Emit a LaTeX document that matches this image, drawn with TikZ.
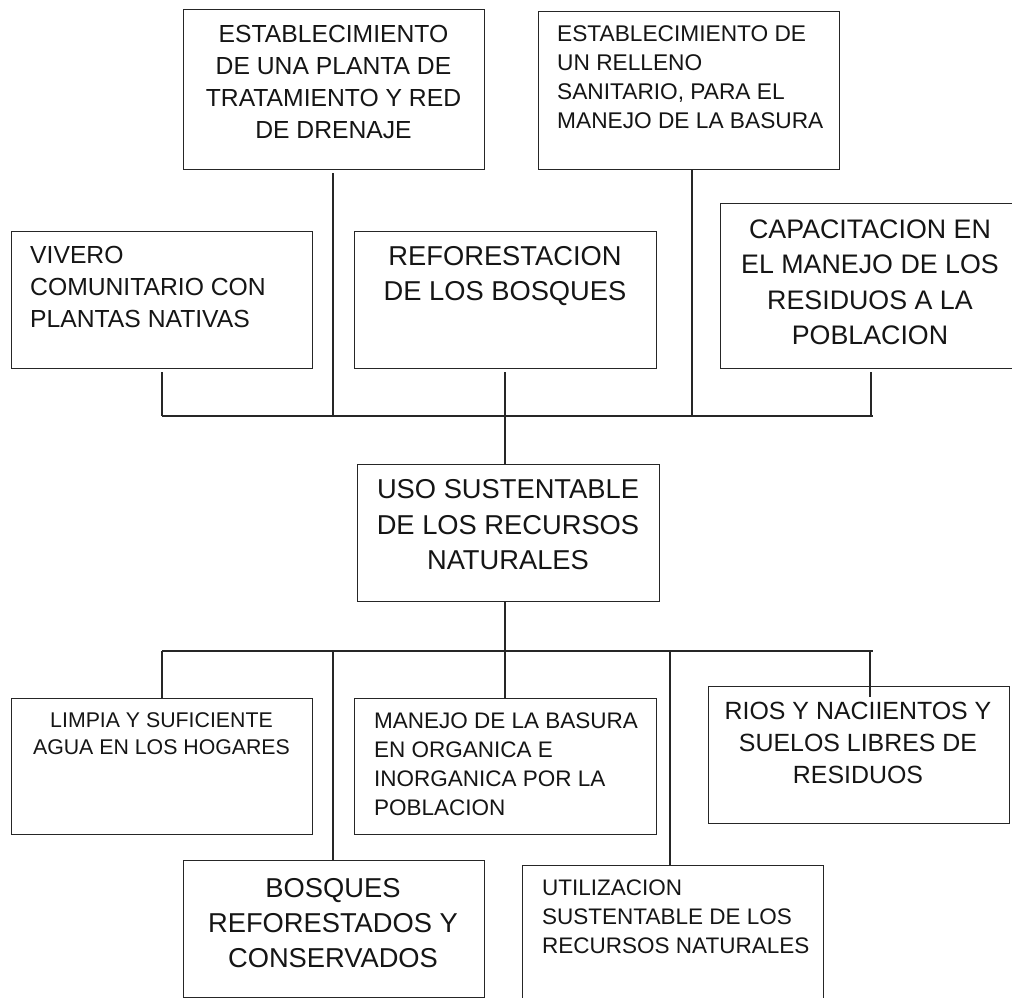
\documentclass[tikz,border=0pt]{standalone}
\usepackage{fontspec}
\setmainfont{Liberation Sans}
\definecolor{linec}{HTML}{262626}
\definecolor{textc}{HTML}{151515}
\tikzset{
  box/.style={draw=linec, line width=1.3pt, rectangle, inner sep=0pt, anchor=north west},
  lbl/.style={inner sep=0pt, text=textc},
  lblc/.style={lbl, align=center, anchor=north},
  lbll/.style={lbl, align=left, anchor=north west},
  conn/.style={draw=linec, line width=1.3pt},
}
\newcommand{\fs}[2]{\fontsize{#1}{#2}\selectfont}
\begin{document}
\begin{tikzpicture}[x=1pt,y=-1pt]
\clip (0,0) rectangle (1012,998);
\fill[white] (0,0) rectangle (1012,998);
% boxes
\node[box, minimum width=301, minimum height=160] (b1) at (183,9) {};
\node[box, minimum width=301, minimum height=158] (b2) at (538,11) {};
\node[box, minimum width=301, minimum height=137] (viv) at (11,231) {};
\node[box, minimum width=302, minimum height=137] (ref) at (354,231) {};
\node[box, minimum width=292, minimum height=165] (cap) at (720,203) {};
\node[box, minimum width=302, minimum height=137] (uso) at (357,464) {};
\node[box, minimum width=301, minimum height=136] (lim) at (11,698) {};
\node[box, minimum width=302, minimum height=136] (man) at (354,698) {};
\node[box, minimum width=301, minimum height=137] (rio) at (708,686) {};
\node[box, minimum width=301, minimum height=137] (bos) at (183,860) {};
\node[box, minimum width=301, minimum height=160] (uti) at (522,865) {};
% labels
\node[lblc, font=\fs{24.7}{32}] (b1t) at (333.5,25) {ESTABLECIMIENTO\\DE UNA PLANTA DE\\TRATAMIENTO Y RED\\DE DRENAJE};
\node[lbll, font=\fs{22.7}{29}] (b2t) at (557,25.5) {ESTABLECIMIENTO DE\\UN RELLENO\\SANITARIO, PARA EL\\MANEJO DE LA BASURA};
\node[lbll, font=\fs{24.7}{32}] (vivt) at (30,246.5) {VIVERO\\COMUNITARIO CON\\PLANTAS NATIVAS};
\node[lblc, font=\fs{27.3}{34.5}] (reft) at (505,246.5) {REFORESTACION\\DE LOS BOSQUES};
\node[lblc, font=\fs{26.8}{35.5}] (capt) at (870,219.5) {CAPACITACION EN\\EL MANEJO DE LOS\\RESIDUOS A LA\\POBLACION};
\node[lblc, font=\fs{27.3}{35.5}] (usot) at (508,479.5) {USO SUSTENTABLE\\DE LOS RECURSOS\\NATURALES};
\node[lblc, font=\fs{21.3}{26.7}] (limt) at (161.5,712.5) {LIMPIA Y SUFICIENTE\\AGUA EN LOS HOGARES};
\node[lbll, font=\fs{22.5}{29}] (mant) at (374,712.5) {MANEJO DE LA BASURA\\EN ORGANICA E\\INORGANICA POR LA\\POBLACION};
\node[lblc, font=\fs{24.9}{32}] (riot) at (858,701.5) {RIOS Y NACIIENTOS Y\\SUELOS LIBRES DE\\RESIDUOS};
\node[lblc, font=\fs{27.3}{35}] (bost) at (333,878) {BOSQUES\\REFORESTADOS Y\\CONSERVADOS};
\node[lbll, font=\fs{22.5}{29}] (utit) at (542,879.5) {UTILIZACION\\SUSTENTABLE DE LOS\\RECURSOS NATURALES};
% bus coordinates (top)
\coordinate (tv) at (162,416);
\coordinate (t1) at (333,416);
\coordinate (tr) at (505,416);
\coordinate (t2) at (692,416);
\coordinate (tc) at (871,416);
\coordinate (tend) at (873,416);
% bus coordinates (bottom)
\coordinate (bl) at (162,651);
\coordinate (bb) at (333,651);
\coordinate (bm) at (505,651);
\coordinate (bu) at (670,651);
\coordinate (br) at (870,651);
\coordinate (bend) at (873,651);
% connectors top
\draw[conn] (tv) -- (tend);
\draw[conn] ([yshift=-3pt]t1 |- b1.south) -- (t1);
\draw[conn] (t2 |- b2.south) -- (t2);
\draw[conn] ([yshift=-3pt]tv |- viv.south) -- (tv);
\draw[conn] ([yshift=-3pt]tr |- ref.south) -- (uso.north -| tr);
\draw[conn] ([yshift=-3pt]tc |- cap.south) -- (tc);
% connectors bottom
\draw[conn] (bm |- uso.south) -- (bm);
\draw[conn] (bl) -- (bend);
\draw[conn] (bl) -- (bl |- lim.north);
\draw[conn] (bb) -- (bb |- bos.north);
\draw[conn] (bm) -- (bm |- man.north);
\draw[conn] (bu) -- (bu |- uti.north);
\draw[conn] (br) -- ([yshift=-11pt]br |- rio.north);
\end{tikzpicture}
\end{document}
